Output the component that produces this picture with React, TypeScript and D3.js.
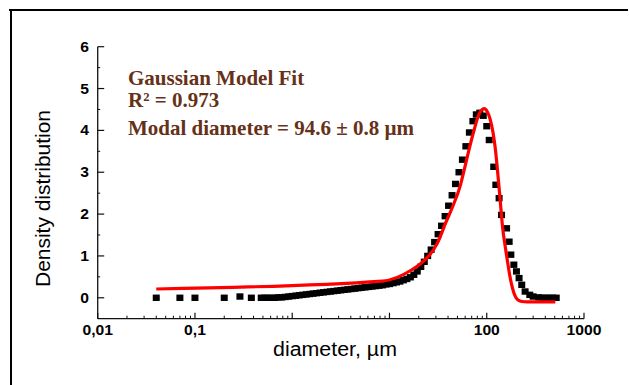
import React from "react";
import * as d3 from "d3";

const W = 629;
const H = 385;

// axis ticks
const xTickVals = [0.01, 0.1, 100, 1000];
const xTickLabels = ["0,01", "0,1", "100", "1000"];
const yTickVals = [0, 1, 2, 3, 4, 5, 6];

// measured size distribution (diameter in µm, density)
const diameter = [
  0.04, 0.07, 0.1, 0.2, 0.29, 0.38,
  0.48, 0.52, 0.56, 0.61, 0.66, 0.72, 0.78, 0.85, 0.92, 1.0,
  1.09, 1.18, 1.28, 1.39, 1.51, 1.64, 1.78, 1.93, 2.1, 2.28,
  2.47, 2.68, 2.91, 3.16, 3.43, 3.73, 4.05, 4.4, 4.77, 5.18,
  5.62, 6.1, 6.63, 7.2, 7.81, 8.48, 9.21, 10, 10.9, 11.8,
  12.8, 13.9, 15.1, 16.4, 17.8, 19.3, 21, 22.8, 24.7, 26.8,
  29.1, 31.6, 34.3, 37.3, 40.5, 44, 47.7, 51.8, 56.2, 61,
  66.3, 72, 78.1, 84.8, 92.1, 100, 106, 118, 124, 134,
  142, 160, 170, 177, 190, 202, 215, 229, 248, 277,
  300, 343, 373, 405, 440, 477, 518,
];
const density = [
  0.0, 0.0, 0.0, 0.0, 0.03, 0.0,
  0.0, 0.0, 0.0, 0.0, 0.0, 0.01, 0.01, 0.02, 0.03, 0.04,
  0.05, 0.06, 0.07, 0.08, 0.09, 0.1, 0.11, 0.12, 0.13, 0.14,
  0.15, 0.16, 0.17, 0.18, 0.19, 0.2, 0.21, 0.22, 0.23, 0.24,
  0.25, 0.26, 0.27, 0.28, 0.29, 0.3, 0.32, 0.33, 0.35, 0.37,
  0.39, 0.42, 0.45, 0.49, 0.55, 0.63, 0.74, 0.86, 1.0, 1.15,
  1.33, 1.52, 1.72, 1.95, 2.2, 2.45, 2.72, 3.0, 3.3, 3.62,
  3.95, 4.22, 4.38, 4.42, 4.35, 4.1, 3.77, 3.13, 2.7, 2.38,
  1.98, 1.66, 1.34, 1.03, 0.79, 0.63, 0.47, 0.31, 0.15, 0.07,
  0.03, 0.01, 0.0, 0.0, 0.0, 0.0, 0.0,
];

// gaussian model fit
const fitDiameter = [
  0.04, 8.5, 17, 21, 26, 31, 38, 45, 53, 60, 67, 75, 82, 88, 94.6,
  101, 108, 116, 122, 128, 136, 146, 155, 164, 172, 180, 190, 200,
  212, 230, 260, 507,
];
const fitDensity = [
  0.21, 0.4, 0.67, 0.82, 1.03, 1.3, 1.8, 2.2, 2.65, 3.15, 3.62, 4.05, 4.35, 4.48, 4.52,
  4.45, 4.28, 3.95, 3.6, 3.13, 2.46, 1.66, 1.22, 0.85, 0.55, 0.32, 0.12, 0.0,
  -0.06, -0.09, -0.1, -0.1,
];

const noteLines = ["Gaussian Model Fit", "R\u00B2 = 0.973", "Modal diameter = 94.6 \u00B1 0.8 \u00B5m"];

const App = () => {
  const x = d3.scaleLog().domain([0.01, 1000]).range([97.7, 584]);
  const y = d3.scaleLinear().domain([-0.5, 6]).range([318.7, 46.7]);

  const xMinor = x.ticks().filter((t) => Math.abs(Math.log10(t) - Math.round(Math.log10(t))) > 1e-6);
  const xMajor = [0.01, 0.1, 1, 10, 100, 1000];
  const yMinor = y.ticks(13).filter((t) => t > -0.5 && Math.abs(t - Math.round(t)) > 1e-6);

  const fitLine = d3
    .line<number>()
    .x((d, i) => x(fitDiameter[i]))
    .y((d) => y(d))
    .curve(d3.curveMonotoneX);

  const tickFont = { fontFamily: "Liberation Sans, Arial, sans-serif", fontWeight: "bold", fontSize: 14 } as const;

  return (
    <svg width={W} height={H} style={{ position: "absolute", left: 0, top: 0, background: "#fff" }}>
      <rect x={0} y={0} width={W} height={H} fill="#fff" />
      {/* frame */}
      <line x1={9} x2={628} y1={10} y2={10} stroke="#000" strokeWidth={2} />
      <line x1={11} x2={11} y1={9} y2={H} stroke="#000" strokeWidth={2} />

      {/* axes */}
      <line x1={x(0.01)} x2={x(1000)} y1={y(-0.5)} y2={y(-0.5)} stroke="#111" strokeWidth={1.3} />
      <line x1={x(0.01)} x2={x(0.01)} y1={y(6)} y2={y(-0.5)} stroke="#111" strokeWidth={1.3} />

      {xMajor.map((t) => (
        <line key={"xM" + t} x1={x(t)} x2={x(t)} y1={y(-0.5)} y2={y(-0.5) - 6} stroke="#111" strokeWidth={1.2} />
      ))}
      {xMinor.map((t) => (
        <line key={"xm" + t} x1={x(t)} x2={x(t)} y1={y(-0.5)} y2={y(-0.5) - 3} stroke="#111" strokeWidth={1} />
      ))}
      {yTickVals.map((t) => (
        <line key={"yM" + t} x1={x(0.01)} x2={x(0.01) + 6.5} y1={y(t)} y2={y(t)} stroke="#111" strokeWidth={1.2} />
      ))}
      {yMinor.map((t) => (
        <line key={"ym" + t} x1={x(0.01)} x2={x(0.01) + 2.5} y1={y(t)} y2={y(t)} stroke="#111" strokeWidth={1} />
      ))}

      {xTickVals.map((t, i) => (
        <text key={"xl" + t} transform={`translate(${x(t)},335) scale(1.12,1)`} textAnchor="middle" {...tickFont}>
          {xTickLabels[i]}
        </text>
      ))}
      {yTickVals.map((t) => (
        <text key={"yl" + t} transform={`translate(89,${y(t) + 5}) scale(1.12,1)`} textAnchor="end" {...tickFont}>
          {t}
        </text>
      ))}

      <text x={335} y={356} textAnchor="middle" fontFamily="Liberation Sans, Arial, sans-serif" fontSize={20} textLength={124} lengthAdjust="spacingAndGlyphs">
        diameter, µm
      </text>
      <text
        transform="translate(50,198.5) rotate(-90)"
        textAnchor="middle"
        fontFamily="Liberation Sans, Arial, sans-serif"
        fontSize={20}
        textLength={177}
        lengthAdjust="spacingAndGlyphs"
      >
        Density distribution
      </text>

      {/* data squares */}
      {diameter.map((d, i) => (
        <rect key={"p" + i} x={x(d) - 3.5} y={y(density[i]) - 3.2} width={7} height={6.4} fill="#000" />
      ))}

      {/* fit */}
      <path d={fitLine(fitDensity) || ""} fill="none" stroke="#ff0000" strokeWidth={3.2} strokeLinejoin="round" />

      {/* annotation */}
      {noteLines.map((s, i) => (
        <text
          key={"n" + i}
          x={128}
          y={[85, 107, 135][i]}
          fontFamily="Liberation Serif, Times New Roman, serif"
          fontWeight="bold"
          fontSize={21}
          fill="#653118"
        >
          {s}
        </text>
      ))}
    </svg>
  );
};

export default App;
